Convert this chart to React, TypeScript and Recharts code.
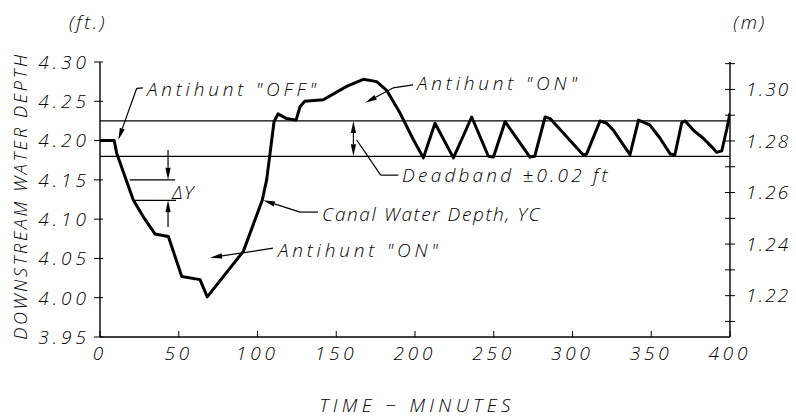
import React from 'react';
import { ComposedChart, Line, XAxis, YAxis, ReferenceLine, ReferenceDot } from 'recharts';

// ---- data ----
const TIME = [0, 9, 10.6, 21.2, 27.5, 35, 43.4, 51.9, 63.5, 68.1, 91, 103, 105.8, 109, 110.5, 113, 118.5, 124.5, 127, 130, 141.8, 156.6, 167.2, 175.7, 182, 190.5, 199, 205.3, 212.7, 224.4, 236, 246.6, 249.8, 257.2, 273, 276, 282.6, 285.8, 296.3, 304.8, 306.9, 309, 317.5, 321.7, 326, 336.5, 341.9, 349, 355.6, 362, 365, 369.4, 371.5, 376.8, 383, 388.4, 391.5, 394.8, 398, 400];
const DEPTH_FT = [4.2, 4.2, 4.184, 4.124, 4.103, 4.081, 4.078, 4.027, 4.023, 4.001, 4.059, 4.124, 4.15, 4.2, 4.224, 4.234, 4.228, 4.226, 4.243, 4.25, 4.252, 4.269, 4.278, 4.275, 4.264, 4.235, 4.201, 4.178, 4.222, 4.178, 4.23, 4.18, 4.179, 4.224, 4.179, 4.18, 4.23, 4.228, 4.205, 4.186, 4.182, 4.183, 4.225, 4.222, 4.213, 4.182, 4.226, 4.22, 4.203, 4.183, 4.182, 4.223, 4.225, 4.213, 4.203, 4.192, 4.185, 4.187, 4.215, 4.235];

const TIME_TICKS = [0, 50, 100, 150, 200, 250, 300, 350, 400];
const FT_TICKS = [3.95, 4.0, 4.05, 4.1, 4.15, 4.2, 4.25, 4.3];
const M_TICKS = [1.21, 1.22, 1.23, 1.24, 1.25, 1.26, 1.27, 1.28, 1.29, 1.3, 1.31];
const FT_DOMAIN = [3.95, 4.3];
const FT_TO_M = 0.3048;
const DEADBAND_FT = [4.225, 4.18];

const X_TITLE = 'TIME − MINUTES';
const Y_TITLE = 'DOWNSTREAM WATER DEPTH';
const FT_UNIT = '(ft.)';
const M_UNIT = '(m)';

// annotation texts and anchor points (time, ft)
const NOTE_TEXT = ['Antihunt "OFF"', 'Antihunt "ON"', 'Deadband ±0.02 ft', 'Canal Water Depth, YC', 'Antihunt "ON"', 'ΔY'];
const NOTE_T = [29.8, 201.3, 191.8, 141, 113, 45.7];
const NOTE_FT = [4.2657, 4.273, 4.156, 4.1067, 4.061, 4.1346];

// leader segments: [t1, ft1, t2, ft2, arrowhead(1/0)]
const LEADERS: number[][] = [
  [27.3, 4.267, 23.3, 4.2665, 0],
  [23.3, 4.2665, 11.6, 4.2008, 1],
  [198.8, 4.271, 186, 4.267, 0],
  [186, 4.267, 168.3, 4.248, 1],
  [189.4, 4.156, 178.2, 4.156, 0],
  [178.2, 4.156, 162.9, 4.201, 0],
  [160.9, 4.2025, 160.9, 4.225, 1],
  [160.9, 4.2025, 160.9, 4.18, 1],
  [138.4, 4.109, 127, 4.109, 0],
  [127, 4.109, 103.5, 4.124, 1],
  [109.9, 4.063, 69.9, 4.051, 1],
  [43.2, 4.188, 43.2, 4.15, 1],
  [43.2, 4.09, 43.2, 4.124, 1],
  [18.8, 4.15, 47.7, 4.15, 0],
  [21.2, 4.124, 48.3, 4.124, 0],
];

const data = TIME.map((t, i) => ({ t, ft: DEPTH_FT[i] }));

const FONT = '"Open Sans", "DejaVu Sans", sans-serif';
const txt: React.SVGProps<SVGTextElement> = {
  fontFamily: FONT,
  fontStyle: 'italic',
  fontWeight: 300,
  fill: '#000',
};

const arrowShape = (head: boolean) => (p: any) => {
  const { x1, y1, x2, y2 } = p;
  const dx = x2 - x1;
  const dy = y2 - y1;
  const len = Math.sqrt(dx * dx + dy * dy) || 1;
  const ux = dx / len;
  const uy = dy / len;
  const L = 12;
  const W = 2.6;
  const bx = x2 - ux * L;
  const by = y2 - uy * L;
  return (
    <g>
      <line x1={x1} y1={y1} x2={head ? bx : x2} y2={head ? by : y2} stroke="#000" strokeWidth={1.2} />
      {head && (
        <polygon
          points={`${x2},${y2} ${bx - uy * W},${by + ux * W} ${bx + uy * W},${by - ux * W}`}
          fill="#000"
        />
      )}
    </g>
  );
};

const XTick = (p: any) => {
  const { x, y, payload } = p;
  return (
    <g>
      <line x1={x} x2={x} y1={y} y2={y - 6} stroke="#000" strokeWidth={1} />
      <text {...txt} x={x} y={y + 23} textAnchor="middle" fontSize={19} letterSpacing={3.8}>
        {payload.value}
      </text>
    </g>
  );
};

const FtTick = (p: any) => {
  const { x, y, payload } = p;
  return (
    <g>
      <line x1={x - 6} x2={x + 3} y1={y} y2={y} stroke="#000" strokeWidth={1} />
      <text {...txt} x={x - 10} y={y} dy="0.36em" textAnchor="end" fontSize={19} letterSpacing={4}>
        {Number(payload.value).toFixed(2)}
      </text>
    </g>
  );
};

const MTick = (p: any) => {
  const { x, y, payload } = p;
  const v = Number(payload.value);
  const labelled = Math.round(v * 100) % 2 === 0;
  return (
    <g>
      <line x1={x - 5} x2={x + 5} y1={y} y2={y} stroke="#000" strokeWidth={1} />
      {labelled && (
        <text {...txt} x={x + 16} y={y} dy="0.36em" textAnchor="start" fontSize={19} letterSpacing={2.2}>
          {v.toFixed(2)}
        </text>
      )}
    </g>
  );
};

const noteShape = (text: string, size: number, spacing: number) => (p: any) => (
  <text {...txt} x={p.cx} y={p.cy} dy="0.36em" fontSize={size} letterSpacing={spacing}>
    {text}
  </text>
);

export default function App() {
  return (
    <div style={{ position: 'absolute', left: 0, top: 0, width: 796, height: 420, background: '#fff' }}>
      <ComposedChart width={796} height={420} data={data} margin={{ top: 62, right: 0, bottom: 0, left: 0 }}>
        <XAxis
          type="number"
          dataKey="t"
          domain={[0, 400]}
          ticks={TIME_TICKS}
          interval={0}
          height={83}
          tickSize={0}
          tickMargin={0}
          tickLine={false}
          axisLine={{ stroke: '#000', strokeWidth: 1.4 }}
          tick={<XTick />}
          allowDataOverflow
          label={{
            content: (lp: any) => {
              const vb = lp.viewBox || { x: 100, y: 337, width: 630 };
              return (
                <text {...txt} x={vb.x + vb.width / 2 + 2} y={vb.y + 75} textAnchor="middle" fontSize={19} letterSpacing={4.3}>
                  {X_TITLE}
                </text>
              );
            },
          }}
        />
        <YAxis
          yAxisId="ft"
          type="number"
          domain={FT_DOMAIN}
          ticks={FT_TICKS}
          interval={0}
          width={100}
          tickSize={0}
          tickMargin={0}
          tickLine={false}
          axisLine={{ stroke: '#000', strokeWidth: 1.4 }}
          tick={<FtTick />}
          allowDataOverflow
          label={{
            content: (lp: any) => {
              const vb = lp.viewBox || { x: 0, y: 62, width: 100, height: 275 };
              const cy = vb.y + 134;
              return (
                <g>
                  <text {...txt} x={21} y={cy} transform={`rotate(-90 21 ${cy})`} dy="0.36em" textAnchor="middle" fontSize={18} letterSpacing={2.6}>
                    {Y_TITLE}
                  </text>
                  <text {...txt} x={vb.x + 88} y={vb.y - 40} dy="0.36em" textAnchor="middle" fontSize={19} letterSpacing={2.5}>
                    {FT_UNIT}
                  </text>
                </g>
              );
            },
          }}
        />
        <YAxis
          yAxisId="m"
          orientation="right"
          type="number"
          domain={[FT_DOMAIN[0] * FT_TO_M, FT_DOMAIN[1] * FT_TO_M]}
          ticks={M_TICKS}
          interval={0}
          width={66}
          tickSize={0}
          tickMargin={0}
          tickLine={false}
          axisLine={{ stroke: '#000', strokeWidth: 1.4 }}
          tick={<MTick />}
          allowDataOverflow
          label={{
            content: (lp: any) => {
              const vb = lp.viewBox || { x: 730, y: 62 };
              return (
                <text {...txt} x={vb.x + 20} y={vb.y - 40} dy="0.36em" textAnchor="middle" fontSize={19} letterSpacing={2.5}>
                  {M_UNIT}
                </text>
              );
            },
          }}
        />
        {DEADBAND_FT.map((v) => (
          <ReferenceLine key={v} yAxisId="ft" y={v} stroke="#000" strokeWidth={1.2} />
        ))}
        {LEADERS.map((s, i) => (
          <ReferenceLine
            key={'l' + i}
            yAxisId="ft"
            segment={[{ x: s[0], y: s[1] }, { x: s[2], y: s[3] }]}
            shape={arrowShape(s[4] === 1)}
          />
        ))}
        <Line
          yAxisId="ft"
          type="linear"
          dataKey="ft"
          stroke="#000"
          strokeWidth={3}
          dot={false}
          strokeLinejoin="round"
          isAnimationActive={false}
        />
        <ReferenceDot yAxisId="ft" x={NOTE_T[0]} y={NOTE_FT[0]} r={0} shape={noteShape(NOTE_TEXT[0], 19, 3.8)} />
        <ReferenceDot yAxisId="ft" x={NOTE_T[1]} y={NOTE_FT[1]} r={0} shape={noteShape(NOTE_TEXT[1], 19, 3.8)} />
        <ReferenceDot yAxisId="ft" x={NOTE_T[2]} y={NOTE_FT[2]} r={0} shape={noteShape(NOTE_TEXT[2], 19, 3.2)} />
        <ReferenceDot yAxisId="ft" x={NOTE_T[3]} y={NOTE_FT[3]} r={0} shape={noteShape(NOTE_TEXT[3], 19, 1.6)} />
        <ReferenceDot yAxisId="ft" x={NOTE_T[4]} y={NOTE_FT[4]} r={0} shape={noteShape(NOTE_TEXT[4], 19, 3.8)} />
        <ReferenceDot yAxisId="ft" x={NOTE_T[5]} y={NOTE_FT[5]} r={0} shape={noteShape(NOTE_TEXT[5], 19, 1.5)} />
      </ComposedChart>
    </div>
  );
}
